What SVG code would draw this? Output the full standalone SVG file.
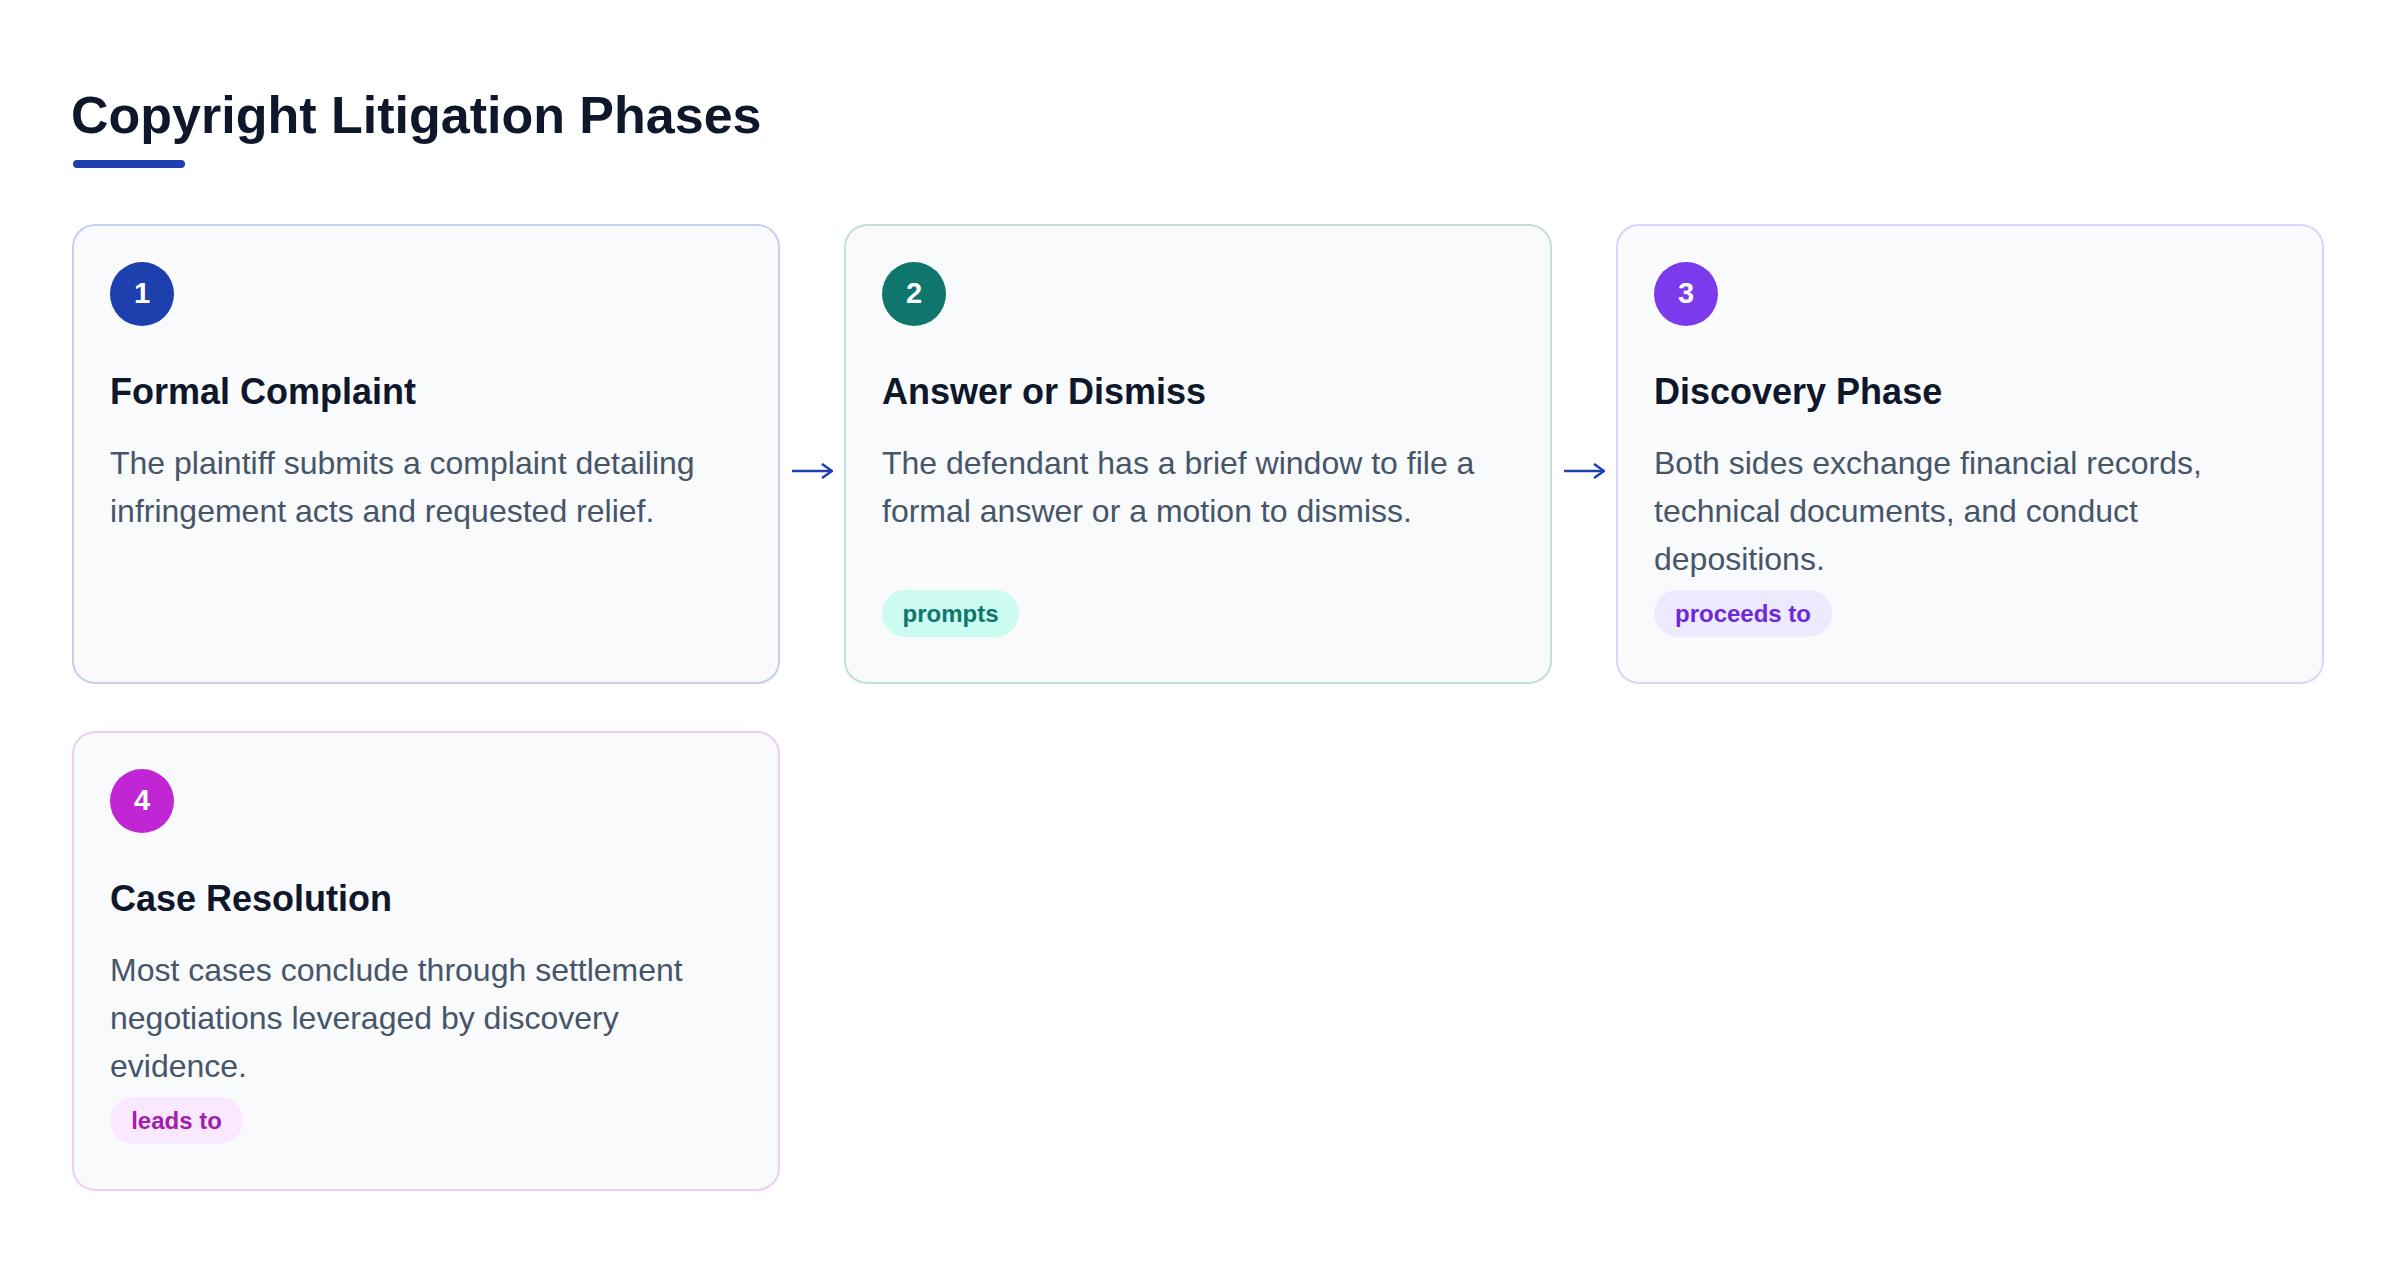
<svg xmlns="http://www.w3.org/2000/svg" width="2400" height="1264" viewBox="0 0 2400 1264">
  <defs>
    <style>
      .card { fill: #f8fafc; stroke-width: 2; }
      .num { font-family: "Liberation Sans", Arial, sans-serif; font-weight: bold; font-size: 29px; fill: #ffffff; text-anchor: middle; }
      .ttl { font-family: "Liberation Sans", Arial, sans-serif; font-weight: bold; font-size: 36px; fill: #0f172a; }
      .body { font-family: "Liberation Sans", Arial, sans-serif; font-size: 32px; fill: #475569; }
      .pill { font-family: "Liberation Sans", Arial, sans-serif; font-weight: bold; font-size: 24px; text-anchor: middle; }
      .conn { stroke: #1e40af; stroke-width: 2.5; fill: none; stroke-linecap: butt; }
    </style>
    <marker id="arrow" viewBox="0 0 12 16" refX="11" refY="8" markerWidth="12" markerHeight="16" markerUnits="userSpaceOnUse" orient="auto">
      <path d="M1,1 L11,8 L1,15" fill="none" stroke="#1e40af" stroke-width="2.5"/>
    </marker>
  </defs>
  <rect width="2400" height="1264" fill="#ffffff"/>

  <g id="header">
    <text x="71" y="133" font-family="Liberation Sans, Arial, sans-serif" font-weight="bold" font-size="52" fill="#0f172a">Copyright Litigation Phases</text>
    <rect x="73" y="160" width="112" height="8" rx="4" fill="#1e40af"/>
  </g>

  <g id="node1">
    <rect class="card" x="73" y="225" width="706" height="458" rx="22" stroke="#c7cfec"/>
    <circle cx="142" cy="294" r="32" fill="#1e40af"/>
    <text class="num" x="142" y="303">1</text>
    <text class="ttl" x="110" y="404">Formal Complaint</text>
    <text class="body" x="110" y="474">The plaintiff submits a complaint detailing</text>
    <text class="body" x="110" y="522">infringement acts and requested relief.</text>
  </g>

  <g id="node2">
    <rect class="card" x="845" y="225" width="706" height="458" rx="22" stroke="#c3dedb"/>
    <circle cx="914" cy="294" r="32" fill="#0f766e"/>
    <text class="num" x="914" y="303">2</text>
    <text class="ttl" x="882" y="404">Answer or Dismiss</text>
    <text class="body" x="882" y="474">The defendant has a brief window to file a</text>
    <text class="body" x="882" y="522">formal answer or a motion to dismiss.</text>
    <rect x="882" y="590" width="137" height="47" rx="23.5" fill="#ccfbf1"/>
    <text class="pill" x="950.5" y="622" fill="#0f766e">prompts</text>
  </g>

  <g id="node3">
    <rect class="card" x="1617" y="225" width="706" height="458" rx="22" stroke="#ddd3fa"/>
    <circle cx="1686" cy="294" r="32" fill="#7c3aed"/>
    <text class="num" x="1686" y="303">3</text>
    <text class="ttl" x="1654" y="404">Discovery Phase</text>
    <text class="body" x="1654" y="474">Both sides exchange financial records,</text>
    <text class="body" x="1654" y="522">technical documents, and conduct</text>
    <text class="body" x="1654" y="570">depositions.</text>
    <rect x="1654" y="590" width="178" height="47" rx="23.5" fill="#ede9fe"/>
    <text class="pill" x="1743" y="622" fill="#6d28d9">proceeds to</text>
  </g>

  <g id="node4">
    <rect class="card" x="73" y="732" width="706" height="458" rx="22" stroke="#efcdf3"/>
    <circle cx="142" cy="801" r="32" fill="#c026d3"/>
    <text class="num" x="142" y="810">4</text>
    <text class="ttl" x="110" y="911">Case Resolution</text>
    <text class="body" x="110" y="981">Most cases conclude through settlement</text>
    <text class="body" x="110" y="1029">negotiations leveraged by discovery</text>
    <text class="body" x="110" y="1077">evidence.</text>
    <rect x="110" y="1097" width="133" height="47" rx="23.5" fill="#fae8ff"/>
    <text class="pill" x="176.5" y="1129" fill="#a21caf">leads to</text>
  </g>

  <g id="connectors">
    <line class="conn" x1="792" y1="471" x2="832" y2="471" marker-end="url(#arrow)"/>
    <line class="conn" x1="1564" y1="471" x2="1604" y2="471" marker-end="url(#arrow)"/>
  </g>
</svg>
